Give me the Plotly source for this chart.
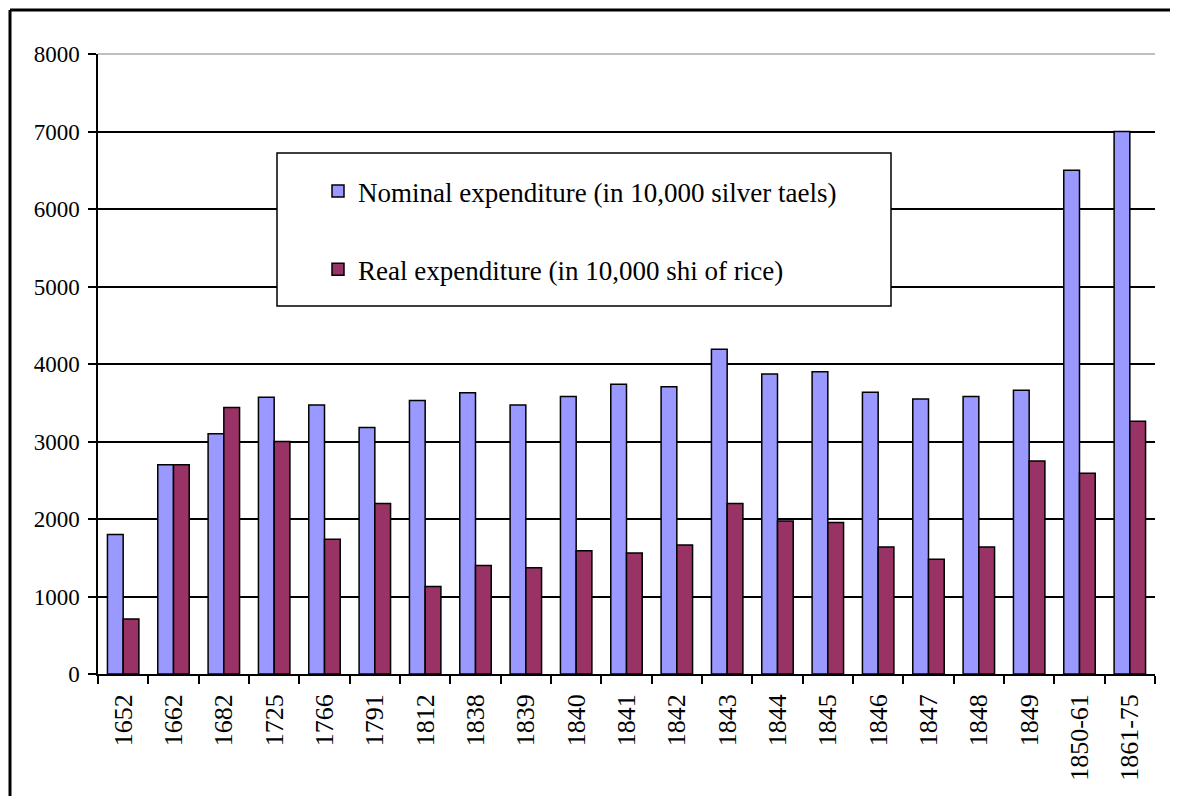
import plotly.graph_objects as go

categories = ["1652", "1662", "1682", "1725", "1766", "1791", "1812", "1838", "1839", "1840",
              "1841", "1842", "1843", "1844", "1845", "1846", "1847", "1848", "1849",
              "1850-61", "1861-75"]
nominal = [1800, 2700, 3100, 3570, 3470, 3180, 3530, 3630, 3470, 3580,
           3740, 3705, 4190, 3870, 3900, 3635, 3550, 3580, 3660, 6500, 7000]
real = [710, 2700, 3440, 3000, 1740, 2200, 1130, 1400, 1370, 1590,
        1560, 1665, 2200, 1975, 1955, 1640, 1480, 1640, 2750, 2590, 3260]
y_ticks = [0, 1000, 2000, 3000, 4000, 5000, 6000, 7000, 8000]

FONT = "Liberation Serif, Times New Roman, serif"

fig = go.Figure()
fig.add_trace(go.Bar(x=categories, y=nominal, name="Nominal expenditure (in 10,000 silver taels)",
                     marker=dict(color="#9999FF", line=dict(color="black", width=1.5)),
                     legendgroup="a"))
fig.add_trace(go.Bar(x=categories, y=real, name="Real expenditure (in 10,000 shi of rice)",
                     marker=dict(color="#993366", line=dict(color="black", width=1.5)),
                     legendgroup="b"))

OFF = 8  # page body margin
W, H = 1178 - OFF, 796 - OFF
L, R, T, B = 98 - OFF, 23, 54 - OFF, 122
pw, ph = W - L - R, H - T - B

def px(x):  # page pixel x -> paper
    return (x - OFF - L) / pw

def py(y):  # page pixel y -> paper
    return (H - B - (y - OFF)) / ph

fig.update_layout(
    width=W, height=H,
    margin=dict(l=L, r=R, t=T, b=B, pad=0),
    paper_bgcolor="white", plot_bgcolor="white",
    font=dict(family=FONT, size=23, color="black"),
    barmode="group", bargap=0.375, bargroupgap=0,
    showlegend=True,
    legend=dict(x=px(318), y=py(167), xanchor="left", yanchor="top",
                bgcolor="rgba(0,0,0,0)", borderwidth=0,
                font=dict(family=FONT, size=27),
                traceorder="grouped", tracegroupgap=40),
    xaxis=dict(type="category", tickangle=-90, showline=True, linecolor="black", linewidth=1.5,
               ticks="outside", ticklen=8, tickwidth=1.5, tickcolor="black", tickson="boundaries",
               ticklabelstandoff=8,
               showgrid=False, tickfont=dict(family=FONT, size=26)),
    yaxis=dict(range=[0, 8000], tickvals=y_ticks, showline=True, linecolor="black", linewidth=1.5,
               ticks="outside", ticklen=8, tickwidth=1.5, tickcolor="black",
               ticklabelstandoff=4,
               showgrid=True, gridcolor="black", gridwidth=1.5, zeroline=False,
               tickfont=dict(family=FONT, size=23)),
    shapes=[
        # top plot-area line (light gray)
        dict(type="line", xref="paper", yref="paper", x0=0, x1=1, y0=1, y1=1,
             line=dict(color="#C0C0C0", width=2), layer="above"),
        # legend box
        dict(type="rect", xref="paper", yref="paper", x0=px(277), x1=px(891), y0=py(306), y1=py(153),
             line=dict(color="black", width=1.5), fillcolor="white", layer="above"),
        # outer chart border
        dict(type="line", xref="paper", yref="paper", x0=px(10), x1=px(1175), y0=py(10), y1=py(10),
             line=dict(color="black", width=3)),
        dict(type="line", xref="paper", yref="paper", x0=px(10), x1=px(10), y0=py(10), y1=py(810),
             line=dict(color="black", width=3)),
        dict(type="line", xref="paper", yref="paper", x0=px(1175), x1=px(1175), y0=py(10), y1=py(810),
             line=dict(color="#909090", width=1.5)),
    ],
)

fig.write_html("out.html")
